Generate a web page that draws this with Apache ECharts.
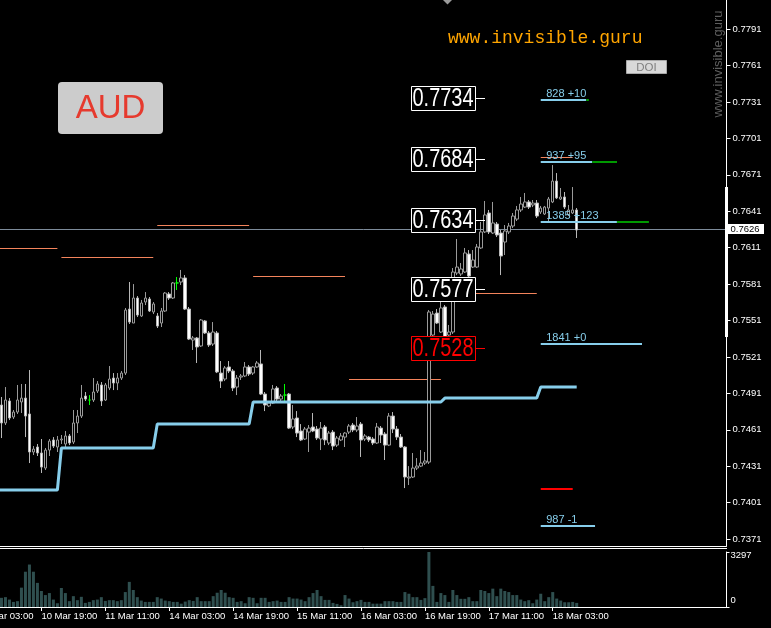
<!DOCTYPE html>
<html><head><meta charset="utf-8">
<script src="https://cdn.jsdelivr.net/npm/echarts@6/dist/echarts.min.js"></script>
<style>html,body{margin:0;padding:0;background:#000;overflow:hidden}#c{width:771px;height:628px}</style>
</head><body><div id="c"></div>
<script>
// ---------------- DATA ----------------
const timeTicks = ['10 Mar 03:00','10 Mar 19:00','11 Mar 11:00','14 Mar 03:00','14 Mar 19:00','15 Mar 11:00','16 Mar 03:00','16 Mar 19:00','17 Mar 11:00','18 Mar 03:00'];
const timeTickBars = [-6,10,26,42,58,74,90,106,122,138];

const open = [0.74814,0.74666,0.74847,0.74715,0.74756,0.74839,0.74871,0.74740,0.74427,0.74468,
0.74419,0.74295,0.74443,0.74526,0.74468,0.74526,0.74493,0.74559,0.74509,0.74666,
0.74723,0.74888,0.74855,0.74855,0.74929,0.74979,0.74855,0.74954,0.75036,0.74995,
0.75036,0.75077,0.75604,0.75489,0.75695,0.75547,0.75662,0.75687,0.75580,0.75547,
0.75489,0.75588,0.75728,0.75695,0.75819,0.75827,0.75860,0.75604,0.75349,0.75366,
0.75300,0.75506,0.75407,0.75316,0.75407,0.75077,0.75028,0.75127,0.75094,0.74962,
0.75044,0.75053,0.75127,0.75077,0.75127,0.75152,0.74904,0.74806,0.74830,0.74954,
0.74863,0.74896,0.74904,0.74633,0.74707,0.74600,0.74534,0.74591,0.74633,0.74616,
0.74534,0.74633,0.74501,0.74591,0.74484,0.74526,0.74550,0.74591,0.74649,0.74608,
0.74657,0.74534,0.74550,0.74534,0.74501,0.74624,0.74575,0.74484,0.74723,0.74616,
0.74550,0.74468,0.74213,0.74221,0.74295,0.74311,0.74336,0.74344,0.75390,0.75571,
0.75415,0.75621,0.75390,0.75415,0.75901,0.75893,0.75909,0.76057,0.75950,0.75950,
0.76107,0.76239,0.76395,0.76230,0.76304,0.76230,0.76156,0.76239,0.76288,0.76345,
0.76420,0.76444,0.76486,0.76461,0.76477,0.76403,0.76387,0.76436,0.76486,0.76658,
0.76510,0.76527,0.76379,0.76395,0.76420];
const close = [0.74666,0.74855,0.74707,0.74756,0.74855,0.74871,0.74723,0.74427,0.74451,0.74419,
0.74303,0.74443,0.74517,0.74476,0.74526,0.74534,0.74559,0.74501,0.74666,0.74723,
0.74871,0.74863,0.74855,0.74921,0.74987,0.74847,0.74979,0.75028,0.74995,0.75036,
0.75077,0.75596,0.75497,0.75695,0.75555,0.75654,0.75695,0.75588,0.75646,0.75464,
0.75588,0.75736,0.75695,0.75819,0.75819,0.75860,0.75604,0.75357,0.75366,0.75292,
0.75514,0.75407,0.75308,0.75415,0.75086,0.75011,0.75119,0.75094,0.74954,0.75036,
0.75053,0.75127,0.75069,0.75127,0.75160,0.74904,0.74814,0.74830,0.74946,0.74863,
0.74888,0.74896,0.74624,0.74699,0.74583,0.74526,0.74616,0.74624,0.74600,0.74542,
0.74624,0.74526,0.74583,0.74476,0.74542,0.74559,0.74583,0.74641,0.74608,0.74641,
0.74526,0.74559,0.74526,0.74501,0.74633,0.74567,0.74484,0.74723,0.74616,0.74550,
0.74468,0.74221,0.74221,0.74295,0.74311,0.74336,0.74353,0.75580,0.75563,0.75489,
0.75613,0.75374,0.75415,0.75909,0.75950,0.75934,0.76066,0.75876,0.76008,0.76115,
0.76239,0.76379,0.76239,0.76313,0.76214,0.76041,0.76247,0.76288,0.76370,0.76420,
0.76469,0.76486,0.76444,0.76477,0.76370,0.76436,0.76444,0.76510,0.76658,0.76519,
0.76527,0.76444,0.76420,0.76420,0.76255];
const low = [0.74542,0.74649,0.74690,0.74699,0.74740,0.74748,0.74550,0.74336,0.74402,0.74394,
0.74254,0.74279,0.74394,0.74460,0.74427,0.74493,0.74460,0.74484,0.74493,0.74583,
0.74707,0.74847,0.74814,0.74839,0.74913,0.74806,0.74847,0.74937,0.74937,0.74937,
0.75020,0.75061,0.75481,0.75489,0.75539,0.75539,0.75637,0.75580,0.75563,0.75448,
0.75456,0.75580,0.75679,0.75687,0.75761,0.75802,0.75596,0.75349,0.75267,0.75160,
0.75292,0.75399,0.75292,0.75300,0.75077,0.74954,0.75011,0.75077,0.74929,0.74896,
0.75020,0.75044,0.75053,0.75061,0.75119,0.74896,0.74764,0.74797,0.74822,0.74839,
0.74847,0.74830,0.74616,0.74616,0.74550,0.74517,0.74526,0.74427,0.74591,0.74526,
0.74443,0.74484,0.74484,0.74443,0.74468,0.74517,0.74468,0.74575,0.74591,0.74591,
0.74386,0.74517,0.74509,0.74484,0.74493,0.74501,0.74361,0.74476,0.74583,0.74526,
0.74460,0.74130,0.74155,0.74213,0.74279,0.74303,0.74320,0.74328,0.75349,0.75481,
0.75407,0.75357,0.75349,0.75399,0.75884,0.75876,0.75901,0.75868,0.75942,0.75942,
0.76099,0.76230,0.76222,0.76222,0.76197,0.75884,0.76049,0.76222,0.76271,0.76329,
0.76403,0.76436,0.76428,0.76444,0.76354,0.76387,0.76379,0.76313,0.76477,0.76510,
0.76502,0.76428,0.76370,0.76387,0.76189];
const high = [0.74880,0.74962,0.74871,0.74773,0.74979,0.74987,0.74987,0.75102,0.74476,0.74493,
0.74534,0.74460,0.74534,0.74550,0.74559,0.74567,0.74600,0.74575,0.74773,0.74773,
0.74979,0.74921,0.74896,0.75036,0.75011,0.75003,0.74995,0.75135,0.75077,0.75077,
0.75094,0.75613,0.75827,0.75810,0.75711,0.75679,0.75744,0.75703,0.75662,0.75571,
0.75613,0.75744,0.75744,0.75827,0.75868,0.75926,0.75884,0.75621,0.75382,0.75374,
0.75522,0.75514,0.75423,0.75497,0.75423,0.75176,0.75135,0.75176,0.75110,0.75061,
0.75069,0.75168,0.75143,0.75135,0.75176,0.75267,0.74921,0.74847,0.74979,0.74970,
0.74904,0.74987,0.74913,0.74814,0.74764,0.74657,0.74633,0.74649,0.74748,0.74641,
0.74674,0.74649,0.74600,0.74608,0.74559,0.74583,0.74591,0.74657,0.74666,0.74715,
0.74674,0.74575,0.74559,0.74550,0.74666,0.74641,0.74591,0.74748,0.74756,0.74641,
0.74575,0.74476,0.74311,0.74419,0.74377,0.74443,0.74427,0.75596,0.75588,0.75604,
0.75703,0.75637,0.75473,0.75942,0.76181,0.75983,0.76107,0.76090,0.76090,0.76140,
0.76321,0.76494,0.76420,0.76486,0.76321,0.76255,0.76296,0.76313,0.76395,0.76453,
0.76527,0.76560,0.76502,0.76502,0.76502,0.76453,0.76453,0.76527,0.76790,0.76724,
0.76601,0.76568,0.76461,0.76609,0.76436];
const volume = [549,590,445,305,350,1160,2115,2545,2115,1445,
960,715,835,445,225,1140,835,350,650,410,
610,245,305,410,445,590,365,410,410,350,
410,895,1505,1020,590,385,305,305,305,590,
505,385,350,305,305,200,325,410,365,590,
350,350,350,650,855,1020,855,590,550,305,
350,225,590,550,225,550,550,305,350,385,
305,305,590,505,505,445,350,590,835,1020,
650,425,425,245,185,105,715,505,285,350,
425,305,305,200,200,200,350,350,350,305,
305,895,795,590,590,425,530,3297,1265,305,
835,715,305,1020,715,490,490,590,350,350,
1020,960,835,1100,650,1100,960,895,715,715,
445,350,410,225,445,795,350,590,895,505,
385,285,285,305,245];

const priceTicks = [0.7371,0.7401,0.7431,0.7461,0.7491,0.7521,0.7551,0.7581,0.7611,0.7641,0.7671,0.7701,0.7731,0.7761,0.7791];
const priceMin = 0.73653, priceMax = 0.78149;
const volumeTicks = [0, 3297];
const lastPrice = 0.7626;

// stepped support line: [fromBar, toBar, price]
const stepLevels = [[-6,14,0.74114],[15,38,0.74460],[39,62,0.74657],[63,110,0.74839],[111,134,0.74871],[135,144,0.74962]];
// daily level lines: [fromBar, toBar, price]
const dayLines = [[-6,14,0.76107],[15,38,0.76033],[39,62,0.76296],[63,86,0.75876],[87,110,0.75028],[111,134,0.75736],[135,143,0.76856]];
// key price levels (boxed)
const keyLevels = [0.7734,0.7684,0.7634,0.7577,0.7528];
const keyLevelBar = 119;
// DOI levels: [price, count, change]
const doiLevels = [[0.77326,828,10],[0.76815,937,95],[0.76321,1385,123],[0.75316,1841,0],[0.73817,987,-1]];
const doiBar = 135;
const redMarks = [[135,143,0.74122]];
const dayRange = [0.75374, 0.76609];

// ---------------- BUILD ----------------
const FIRST_BAR = -6, SLOT_COUNT = 188;
const cats = Array.from({length: SLOT_COUNT}, (_, k) => 'b' + (k + FIRST_BAR));
const slot = b => b - FIRST_BAR;
const GREEN = '#00ff00';
const candleData = cats.map((c, k) => {
  const b = k + FIRST_BAR;
  if (b < 0 || b >= open.length) return '-';
  const v = [open[b], close[b], low[b], high[b]];
  if (open[b] === close[b]) return {value: v, itemStyle: {color: GREEN, color0: GREEN, borderColor: GREEN, borderColor0: GREEN}};
  return v;
});
const volData = cats.map((c, k) => { const b = k + FIRST_BAR; return (b < 0 || b >= volume.length) ? '-' : volume[b]; });
const stepData = cats.map((c, k) => {
  const b = k + FIRST_BAR;
  const s = stepLevels.find(s => b >= s[0] && b <= s[1]);
  return s ? s[2] : '-';
});
const tickSlots = timeTickBars.map(slot);
const tickInterval = (idx) => tickSlots.indexOf(idx) >= 0;
const tickFormatter = (val, idx) => { const i = tickSlots.indexOf(idx); return i >= 0 ? timeTicks[i] : ''; };

const measure = document.createElement('canvas').getContext('2d');
function fitScale(text, font, target) { measure.font = font; return target / measure.measureText(text).width; }
const BOX_FONT = '25px "Liberation Sans", Arial, sans-serif';
const AX_FONT = '"Liberation Sans", Arial, sans-serif';

const chart = echarts.init(document.getElementById('c'), null, {renderer: 'canvas'});
const option = {
  backgroundColor: '#000',
  animation: false,
  grid: [
    {left: -24.5, right: 44.5, top: 0, height: 546, containLabel: false, outerBoundsMode: 'none'},
    {left: -24.5, right: 44.5, top: 552, height: 55, containLabel: false, outerBoundsMode: 'none'}
  ],
  xAxis: [
    {type: 'category', gridIndex: 0, data: cats, boundaryGap: true,
     axisLine: {show: true, lineStyle: {color: '#fff', width: 1}}, axisTick: {show: false}, axisLabel: {show: false}, splitLine: {show: false}},
    {type: 'category', gridIndex: 1, data: cats, boundaryGap: true,
     axisLine: {show: true, lineStyle: {color: '#fff', width: 1}},
     axisTick: {show: true, alignWithLabel: true, interval: tickInterval, length: 4, lineStyle: {color: '#fff'}},
     axisLabel: {show: true, interval: tickInterval, formatter: tickFormatter, align: 'left', color: '#fff', fontSize: 9.5, fontFamily: AX_FONT, margin: 4, hideOverlap: false},
     splitLine: {show: false}}
  ],
  yAxis: [
    {type: 'value', gridIndex: 0, position: 'right', min: priceMin, max: priceMax, scale: true,
     axisLine: {show: true, lineStyle: {color: '#fff', width: 1}},
     axisTick: {show: true, length: 4, customValues: priceTicks, lineStyle: {color: '#fff'}},
     axisLabel: {show: true, customValues: priceTicks, formatter: v => v.toFixed(4), color: '#fff', fontSize: 9.5, fontFamily: AX_FONT, margin: 6},
     splitLine: {show: false}},
    {type: 'value', gridIndex: 1, position: 'right', min: 0, max: 3297,
     axisLine: {show: true, lineStyle: {color: '#fff', width: 1}},
     axisTick: {show: true, length: 3, customValues: volumeTicks, lineStyle: {color: '#fff'}},
     axisLabel: {show: true, customValues: volumeTicks, margin: 4,
       formatter: v => v === 0 ? '{lo|0}' : '{hi|' + v + '}',
       rich: {hi: {padding: [7, 0, 0, 0], color: '#fff', fontSize: 9.5, fontFamily: AX_FONT},
              lo: {padding: [0, 0, 14, 0], color: '#fff', fontSize: 9.5, fontFamily: AX_FONT}}},
     splitLine: {show: false}}
  ],
  series: [
    {type: 'custom', name: 'dayLines', xAxisIndex: 0, yAxisIndex: 0, z: 1,
     data: dayLines.map(d => [slot(d[0]), slot(d[1]), d[2]]),
     encode: {x: [0, 1], y: 2},
     renderItem: (params, api) => {
       const a = api.coord([api.value(0), api.value(2)]);
       const b = api.coord([api.value(1), api.value(2)]);
       const y = Math.round(a[1]) + 0.5;
       return {type: 'line', shape: {x1: a[0], y1: y, x2: b[0], y2: y}, style: {stroke: '#f4845c', lineWidth: 1}};
     }},
    {type: 'custom', name: 'lastPrice', xAxisIndex: 0, yAxisIndex: 0, z: 1,
     data: [[0, lastPrice]],
     encode: {x: 0, y: 1},
     renderItem: (params, api) => {
       const cs = params.coordSys;
       const y = Math.round(api.coord([0, api.value(1)])[1]) + 0.5;
       const xr = cs.x + cs.width;
       return {type: 'group', children: [
         {type: 'line', shape: {x1: 0, y1: y, x2: xr, y2: y}, style: {stroke: '#7d8b9a', lineWidth: 1}},
         {type: 'rect', shape: {x: xr + 1.5, y: y - 5.5, width: 36, height: 10}, style: {fill: '#ffffff'}},
         {type: 'text', x: xr + 4, y: y, style: {text: api.value(1).toFixed(4), fill: '#000', font: '9.5px ' + AX_FONT, align: 'left', verticalAlign: 'middle'}}
       ]};
     }},
    {type: 'candlestick', name: 'AUD', xAxisIndex: 0, yAxisIndex: 0, z: 2,
     data: candleData, barWidth: 3,
     itemStyle: {color: '#000000', color0: '#ffffff', borderColor: '#9a9a9a', borderColor0: '#b8b8b8', borderWidth: 1}},
    {type: 'line', name: 'support', xAxisIndex: 0, yAxisIndex: 0, z: 3,
     data: stepData, symbol: 'none', connectNulls: false,
     lineStyle: {color: '#87ceeb', width: 3}},
    {type: 'custom', name: 'redMarks', xAxisIndex: 0, yAxisIndex: 0, z: 4,
     data: redMarks.map(d => [slot(d[0]), slot(d[1]), d[2]]),
     encode: {x: [0, 1], y: 2},
     renderItem: (params, api) => {
       const a = api.coord([api.value(0), api.value(2)]);
       const b = api.coord([api.value(1), api.value(2)]);
       const y = Math.round(a[1]);
       return {type: 'rect', shape: {x: a[0], y: y - 1, width: b[0] - a[0], height: 2}, style: {fill: '#ff0000'}};
     }},
    {type: 'custom', name: 'doi', xAxisIndex: 0, yAxisIndex: 0, z: 4,
     data: doiLevels.map(d => [slot(doiBar), d[0], d[1], d[2]]),
     encode: {x: 0, y: 1},
     renderItem: (params, api) => {
       const p = api.coord([api.value(0), api.value(1)]);
       const x0 = p[0], y = Math.round(p[1]);
       const cnt = api.value(2), dl = api.value(3);
       const bl = cnt * 0.055, gl = dl > 0 ? dl * 0.26 : 0;
       const children = [
         {type: 'rect', shape: {x: x0, y: y - 1, width: bl, height: 2}, style: {fill: '#87ceeb'}},
         {type: 'text', x: x0 + 5.5, y: y - 6, style: {text: cnt + ' ' + (dl >= 0 ? '+' : '') + dl, fill: '#87ceeb', font: '11px ' + AX_FONT, align: 'left', verticalAlign: 'middle'}}
       ];
       if (gl > 0) children.push({type: 'rect', shape: {x: x0 + bl, y: y - 1, width: gl, height: 2}, style: {fill: '#009900'}});
       return {type: 'group', children};
     }},
    {type: 'custom', name: 'keyLevels', xAxisIndex: 0, yAxisIndex: 0, z: 10,
     data: keyLevels.map(p => [slot(keyLevelBar), p]),
     encode: {x: 0, y: 1},
     renderItem: (params, api) => {
       const p = api.coord([api.value(0), api.value(1)]);
       const xr = Math.round(p[0] - 1.5), y = Math.round(p[1]);
       const col = params.dataIndex === keyLevels.length - 1 ? '#ff0000' : '#ffffff';
       const txt = api.value(1).toFixed(4);
       const sx = fitScale(txt, BOX_FONT, 61);
       return {type: 'group', children: [
         {type: 'rect', shape: {x: xr - 64 + 0.5, y: y - 12 + 0.5, width: 64, height: 24}, style: {fill: '#000', stroke: col, lineWidth: 1}},
         {type: 'text', x: xr - 32, y: y + 1, scaleX: sx, scaleY: 1, style: {text: txt, fill: col, font: BOX_FONT, align: 'center', verticalAlign: 'middle'}},
         {type: 'line', shape: {x1: xr, y1: y + 0.5, x2: xr + 10, y2: y + 0.5}, style: {stroke: col, lineWidth: 1}}
       ]};
     }},
    {type: 'custom', name: 'dayRange', xAxisIndex: 0, yAxisIndex: 0, z: 10,
     data: [[0, dayRange[0], dayRange[1]]],
     encode: {x: 0, y: [1, 2]},
     renderItem: (params, api) => {
       const a = api.coord([0, api.value(1)]);
       const b = api.coord([0, api.value(2)]);
       const xr = params.coordSys.x + params.coordSys.width;
       return {type: 'rect', shape: {x: xr - 1.5, y: b[1], width: 3, height: a[1] - b[1]}, style: {fill: '#ffffff'}};
     }},
    {type: 'bar', name: 'Volume', xAxisIndex: 1, yAxisIndex: 1, data: volData, barWidth: 3,
     itemStyle: {color: '#2f4f4f'}}
  ],
  graphic: [
    {type: 'line', shape: {x1: 0, y1: 548.5, x2: 727, y2: 548.5}, style: {stroke: '#fff', lineWidth: 1}},
    {type: 'polygon', shape: {points: [[443, 0], [452, 0], [447.5, 4.5]]}, style: {fill: '#9a9a9a'}},
    {type: 'text', x: 448, y: 38, style: {text: 'www.invisible.guru', fill: '#ffa500', font: '18px "Liberation Mono", "Courier New", monospace', verticalAlign: 'middle'}},
    {type: 'text', x: 718, y: 64, rotation: Math.PI / 2, style: {text: 'www.invisible.guru', fill: '#5e5e5e', font: '13px ' + AX_FONT, align: 'center', verticalAlign: 'middle'}},
    {type: 'rect', shape: {x: 626.5, y: 60.5, width: 40, height: 13}, style: {fill: '#d9d9d9', stroke: '#a8a8a8', lineWidth: 1}},
    {type: 'text', x: 646.5, y: 67.5, style: {text: 'DOI', fill: '#808080', font: '11.5px ' + AX_FONT, align: 'center', verticalAlign: 'middle'}},
    {type: 'rect', shape: {x: 58, y: 82, width: 105, height: 52, r: 4}, style: {fill: '#cccccc'}},
    {type: 'text', x: 110.5, y: 109, style: {text: 'AUD', fill: '#e63a2e', font: '33px ' + AX_FONT, align: 'center', verticalAlign: 'middle'}}
  ]
};
chart.setOption(option);
</script>
</body></html>
